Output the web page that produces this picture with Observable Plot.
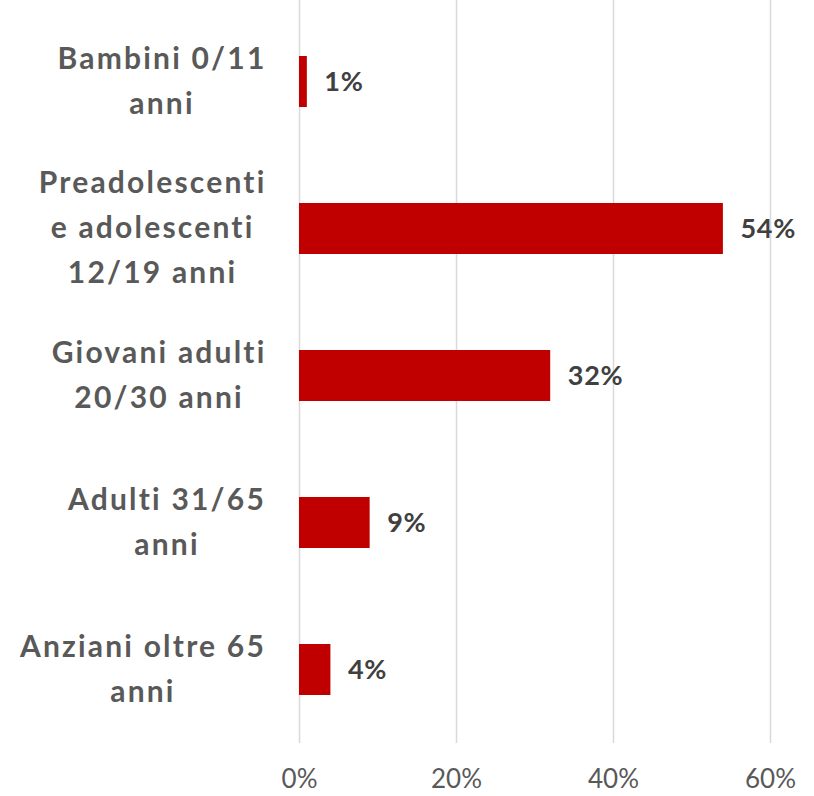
<!DOCTYPE html>
<html><head><meta charset="utf-8">
<script src="https://cdn.jsdelivr.net/npm/d3@7"></script>
<script src="https://cdn.jsdelivr.net/npm/@observablehq/plot@0.6"></script>
<style>body{margin:0;background:#fff}</style>
</head><body><div id="chart"></div>
<script>
const categories = [
  "Bambini 0/11\nanni",
  "Preadolescenti\ne adolescenti\n12/19 anni",
  "Giovani adulti\n20/30 anni",
  "Adulti 31/65\nanni",
  "Anziani oltre 65\nanni"
];
const values = [0.01, 0.54, 0.32, 0.09, 0.04];
const xTicks = [0, 0.2, 0.4, 0.6];
const pct = d => Math.round(d * 100) + "%";
const data = categories.map((c, i) => ({category: c, value: values[i]}));

const chart = Plot.plot({
  width: 814, height: 796,
  marginTop: 0, marginBottom: 53, marginLeft: 299, marginRight: 44,
  style: {fontFamily: "Lato, sans-serif", background: "#fff"},
  x: {domain: [0, 0.6], ticks: xTicks, tickFormat: pct},
  y: {domain: categories, range: [7.5, 742.5], padding: 0},
  marks: [
    Plot.gridX(xTicks, {stroke: "#d9d9d9", strokeOpacity: 1, strokeWidth: 1.5}),
    Plot.axisX({ticks: xTicks, tickSize: 0, tickPadding: 26, fontSize: 26, fill: "#595959", tickFormat: pct, label: null}),
    Plot.axisY({tickSize: 0, tickPadding: 33, dy: -5, fontSize: 30, fontWeight: "bold", fill: "#595959", lineHeight: 1.5, label: null}),
    Plot.barX(data, {x: "value", y: "category", fill: "#c00000", insetTop: 48, insetBottom: 48}),
    Plot.text(data, {x: "value", y: "category", text: d => pct(d.value), textAnchor: "start", dx: 17, fontSize: 27, fontWeight: "bold", fill: "#404040"})
  ]
});
document.getElementById("chart").appendChild(chart);

// style the category labels: letter spacing and centred lines, block right-aligned
const yLabels = chart.querySelectorAll('g[aria-label="y-axis tick label"] text');
yLabels.forEach(t => {
  t.style.letterSpacing = "2.2px";
  const w = t.getBBox().width;
  t.setAttribute("text-anchor", "middle");
  const spans = t.querySelectorAll("tspan");
  if (spans.length) spans.forEach(s => s.setAttribute("x", -w / 2));
  else t.setAttribute("x", (+t.getAttribute("x") || 0) - w / 2);
});
chart.querySelectorAll('g[aria-label="text"] text').forEach(t => t.style.letterSpacing = "0.8px");
</script>
</body></html>
